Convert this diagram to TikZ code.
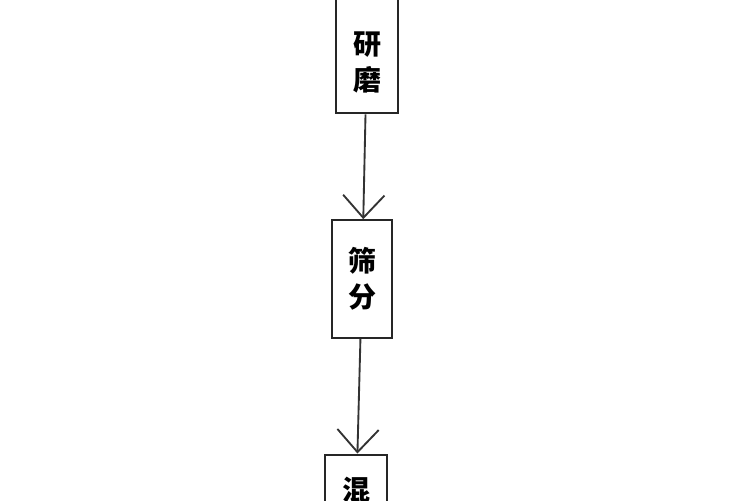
\documentclass[tikz,border=0pt]{standalone}
\usepackage{fontspec}
\newfontfamily\cjk{Noto Sans CJK SC}
\usetikzlibrary{arrows.meta}

\begin{document}
\begin{tikzpicture}[x=0.75pt,y=-0.75pt,
    stepbox/.style={draw=black!85,line width=1.7pt,align=center,inner sep=0pt,
      font=\cjk\bfseries\fontsize{21}{27}\selectfont},
    flow/.style={draw=black!80,line width=1.4pt,-{Straight Barb[length=17pt,width=31pt,line width=1.4pt]}}]
    \useasboundingbox (0,0) rectangle (750,500);
    \clip (0,0) rectangle (750,500);
    \node[stepbox,minimum width=47pt,minimum height=104pt] (grind) at (367,44) {\phantom{研}\\研\\磨};
    \node[stepbox,minimum width=45pt,minimum height=88pt] (sieve) at (362,279) {筛\\分};
    \node[stepbox,minimum width=46pt,minimum height=80pt] (mix) at (356,508) {混\\合};
    \draw[flow] (grind) -- (sieve);
    \draw[flow] (sieve) -- (mix);
  \end{tikzpicture}
\end{document}
